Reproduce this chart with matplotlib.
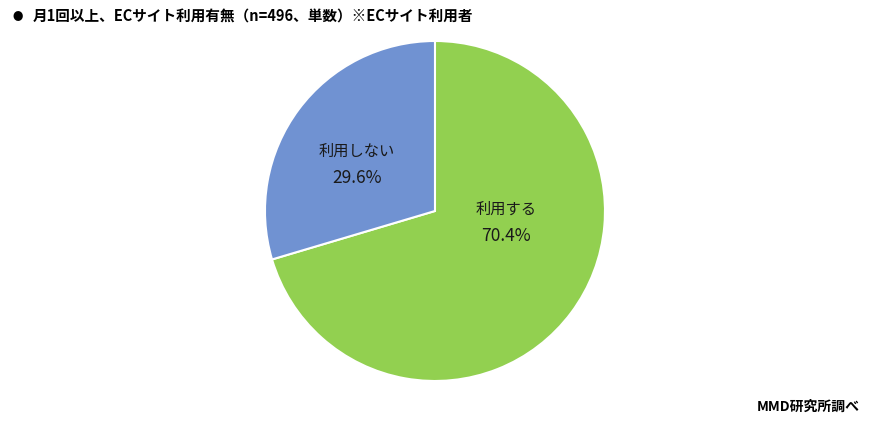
import matplotlib.pyplot as plt

plt.rcParams['font.family'] = ['Noto Sans CJK JP', 'DejaVu Sans']

labels = ['利用する', '利用しない']
values = [70.4, 29.6]
colors = ['#92D050', '#7092D2']
title = '月1回以上、ECサイト利用有無（n=496、単数）※ECサイト利用者'
source = 'MMD研究所調べ'

# label positions inside the pie (data units, radius = 1)
label_pos = [(0.42, -0.07), (-0.46, 0.27)]

fig = plt.figure(figsize=(8.71, 4.23), dpi=100)
ax = fig.add_axes([0.3042, 0.0993, 0.3904, 0.8038])
ax.pie(values, colors=colors, startangle=90, counterclock=False, radius=1,
       wedgeprops=dict(edgecolor='white', linewidth=1.5))
ax.set_xlim(-1, 1)
ax.set_ylim(-1, 1)
ax.set_aspect('equal')

for lab, v, (x, y) in zip(labels, values, label_pos):
    ax.text(x, y + 0.08, lab, ha='center', va='center', fontsize=11, color='#1a1a1a')
    ax.text(x, y - 0.075, f'{v:.1f}%', ha='center', va='center', fontsize=12.5, color='#1a1a1a')

fig.text(12 / 871, 1 - 17 / 423, '●', ha='left', va='center', fontsize=7.5, color='black')
fig.text(33 / 871, 1 - 17 / 423, title, ha='left', va='center', fontsize=10.5,
         fontweight='bold', color='black')
fig.text(860 / 871, 1 - 407 / 423, source, ha='right', va='center', fontsize=10,
         fontweight='bold', color='black')

fig.savefig('out.png', dpi=100)
